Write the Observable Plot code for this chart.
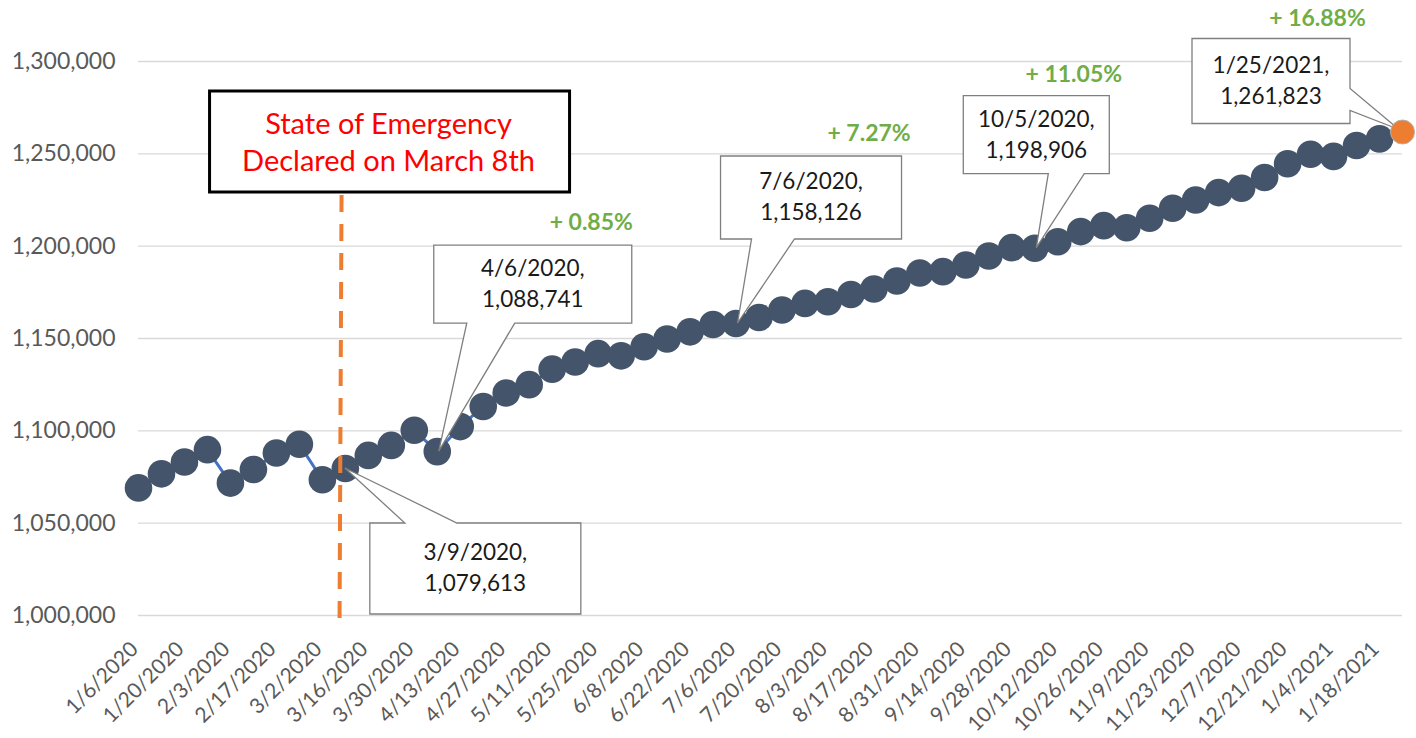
<!DOCTYPE html>
<html>
<head>
<meta charset="utf-8">
<script src="https://cdn.jsdelivr.net/npm/d3@7"></script>
<script src="https://cdn.jsdelivr.net/npm/@observablehq/plot@0.6"></script>
<style>
  html, body { margin: 0; padding: 0; background: #ffffff; }
  #chart { width: 1416px; height: 738px; }
</style>
</head>
<body>
<div id="chart"></div>
<script>
// ---------------- DATA ----------------
const dates = [
  "1/6/2020","1/13/2020","1/20/2020","1/27/2020","2/3/2020","2/10/2020","2/17/2020","2/24/2020",
  "3/2/2020","3/9/2020","3/16/2020","3/23/2020","3/30/2020","4/6/2020","4/13/2020","4/20/2020",
  "4/27/2020","5/4/2020","5/11/2020","5/18/2020","5/25/2020","6/1/2020","6/8/2020","6/15/2020",
  "6/22/2020","6/29/2020","7/6/2020","7/13/2020","7/20/2020","7/27/2020","8/3/2020","8/10/2020",
  "8/17/2020","8/24/2020","8/31/2020","9/7/2020","9/14/2020","9/21/2020","9/28/2020","10/5/2020",
  "10/12/2020","10/19/2020","10/26/2020","11/2/2020","11/9/2020","11/16/2020","11/23/2020","11/30/2020",
  "12/7/2020","12/14/2020","12/21/2020","12/28/2020","1/4/2021","1/11/2021","1/18/2021","1/25/2021"
];
const values = [
  1069100, 1076700, 1083100, 1089800, 1071700, 1079100, 1088000, 1092700,
  1073500, 1079613, 1086700, 1092100, 1100300, 1088741, 1102300, 1113200,
  1120500, 1125000, 1133400, 1137300, 1141800, 1140600, 1145500, 1149700,
  1153600, 1157600, 1158126, 1161400, 1165400, 1169000, 1169900, 1173800,
  1176800, 1181100, 1185500, 1186200, 1189800, 1194700, 1199200, 1198906,
  1202400, 1207900, 1211100, 1210000, 1215100, 1220500, 1225000, 1229000,
  1231400, 1237200, 1244600, 1249800, 1248600, 1254500, 1258100, 1261823
];
const xTickLabels = [
  "1/6/2020","1/20/2020","2/3/2020","2/17/2020","3/2/2020","3/16/2020","3/30/2020","4/13/2020",
  "4/27/2020","5/11/2020","5/25/2020","6/8/2020","6/22/2020","7/6/2020","7/20/2020","8/3/2020",
  "8/17/2020","8/31/2020","9/14/2020","9/28/2020","10/12/2020","10/26/2020","11/9/2020","11/23/2020",
  "12/7/2020","12/21/2020","1/4/2021","1/18/2021"
];
const yTicks = [1000000, 1050000, 1100000, 1150000, 1200000, 1250000, 1300000];
const calloutDates = ["3/9/2020", "4/6/2020", "7/6/2020", "10/5/2020", "1/25/2021"];
const baseDate = "3/9/2020";                       // growth measured from this week
const growthDates = ["4/6/2020", "7/6/2020", "10/5/2020", "1/25/2021"];
const emergencyDate = "3/8/2020";
const emergencyText = ["State of Emergency", "Declared on March 8th"];
const highlightDate = "1/25/2021";

// ---------------- LAYOUT (pixel offsets from the anchored data point) ----------------
const calloutLayout = [
  { box: [25, 55, 236, 146],    side: "top",    base: [60, 112] },
  { box: [-3, -206, 195, -128], side: "bottom", base: [30, 78] },
  { box: [-15, -167, 166, -84], side: "bottom", base: [16, 59] },
  { box: [-71, -152, 75, -74],  side: "bottom", base: [14, 50] },
  { box: [-210, -93, -52, -8],  side: "right",  base: [-43, -21] }
];
const growthLayout = [[154, -229], [133, -190], [39, -174], [-85, -113]];
const emergencyLayout = { box: [-132, 30, 228, 131], textX: 47, lines: [73, 110] };

// ---------------- BUILD ----------------
const parse = d3.utcParse("%m/%d/%Y");
const fmtDate = d => `${d.getUTCMonth() + 1}/${d.getUTCDate()}/${d.getUTCFullYear()}`;
const fmtNum = d3.format(",");
const table = dates.map((d, i) => ({ date: parse(d), label: d, value: values[i] }));
const byLabel = new Map(table.map(d => [d.label, d]));
const baseValue = byLabel.get(baseDate).value;
const growth = growthDates.map((d, i) => ({
  date: parse(d),
  value: byLabel.get(d).value,
  text: "+ " + ((byLabel.get(d).value / baseValue - 1) * 100).toFixed(2) + "%",
  dx: growthLayout[i][0], dy: growthLayout[i][1]
}));
const yDomain = [yTicks[0], yTicks[yTicks.length - 1]];
const FONT = "Lato, 'Open Sans', sans-serif";

function annotations(index, scales) {
  const sx = scales.x, sy = scales.y;
  const g = d3.create("svg:g").attr("font-family", FONT);

  // emergency marker
  const ex = sx(parse(emergencyDate)), ey = sy(yDomain[1]);
  const eb = emergencyLayout.box;
  g.append("line")
    .attr("x1", ex).attr("x2", ex - 2)
    .attr("y1", ey + eb[3] + 3).attr("y2", sy(yDomain[0]) + 5)
    .attr("stroke", "#ED7D31").attr("stroke-width", 4)
    .attr("stroke-dasharray", "17 12");
  g.append("rect")
    .attr("x", ex + eb[0]).attr("y", ey + eb[1])
    .attr("width", eb[2] - eb[0]).attr("height", eb[3] - eb[1])
    .attr("fill", "#ffffff").attr("stroke", "#000000").attr("stroke-width", 3);
  emergencyText.forEach((t, i) => {
    g.append("text")
      .attr("x", ex + emergencyLayout.textX).attr("y", ey + emergencyLayout.lines[i])
      .attr("text-anchor", "middle").attr("fill", "#FF0000")
      .attr("font-size", 29).text(t);
  });

  // data callouts
  calloutDates.forEach((d, i) => {
    const row = byLabel.get(d);
    const ax = sx(row.date), ay = sy(row.value);
    const L = calloutLayout[i];
    const l = ax + L.box[0], t = ay + L.box[1], r = ax + L.box[2], b = ay + L.box[3];
    let pts;
    if (L.side === "top") {
      pts = [[l, t], [ax + L.base[0], t], [ax, ay], [ax + L.base[1], t], [r, t], [r, b], [l, b]];
    } else if (L.side === "bottom") {
      pts = [[l, t], [r, t], [r, b], [ax + L.base[1], b], [ax + 2, ay], [ax + L.base[0], b], [l, b]];
    } else {
      pts = [[l, t], [r, t], [r, ay + L.base[0]], [ax - 3, ay - 2], [r, ay + L.base[1]], [r, b], [l, b]];
    }
    g.append("path")
      .attr("d", "M" + pts.map(p => p.join(",")).join("L") + "Z")
      .attr("fill", "#ffffff").attr("stroke", "#7F7F7F").attr("stroke-width", 1.3);
    const cx = (l + r) / 2, cy = (t + b) / 2;
    [row.label + ",", fmtNum(row.value)].forEach((txt, k) => {
      g.append("text")
        .attr("x", cx).attr("y", cy + (k === 0 ? -8 : 23))
        .attr("text-anchor", "middle").attr("fill", "#1a1a1a")
        .attr("font-size", 22.5).text(txt);
    });
  });
  return g.node();
}

const chart = Plot.plot({
  width: 1416,
  height: 738,
  marginLeft: 138,
  marginRight: 14,
  marginTop: 61,
  marginBottom: 123,
  style: { fontFamily: FONT, color: "#595959", background: "#ffffff", overflow: "visible" },
  x: { type: "utc", domain: [table[0].date, table[table.length - 1].date] },
  y: { domain: yDomain },
  marks: [
    Plot.gridY(yTicks, { stroke: "#D9D9D9", strokeOpacity: 1, strokeWidth: 1.3 }),
    Plot.axisY(yTicks, { tickFormat: fmtNum, tickSize: 0, tickPadding: 23, fontSize: 23, fill: "#595959", label: null }),
    Plot.axisX(xTickLabels.map(parse), {
      tickFormat: fmtDate, tickRotate: -45, tickSize: 0, tickPadding: 30, dx: -4,
      fontSize: 21, fill: "#595959", label: null
    }),
    Plot.line(table, { x: "date", y: "value", stroke: "#4472C4", strokeWidth: 3 }),
    Plot.dot(table.filter(d => d.label !== highlightDate), { x: "date", y: "value", r: 13.8, fill: "#44546A" }),
    annotations,
    Plot.dot(table.filter(d => d.label === highlightDate), { x: "date", y: "value", r: 12, fill: "#ED7D31", stroke: "#B0B0B0", strokeWidth: 1 }),
    ...growth.map(gd => Plot.text([gd], {
      x: "date", y: "value", text: "text", dx: gd.dx, dy: gd.dy,
      fill: "#70AD47", fontWeight: "bold", fontSize: 23, textAnchor: "middle"
    }))
  ]
});
document.getElementById("chart").appendChild(chart);
</script>
</body>
</html>
